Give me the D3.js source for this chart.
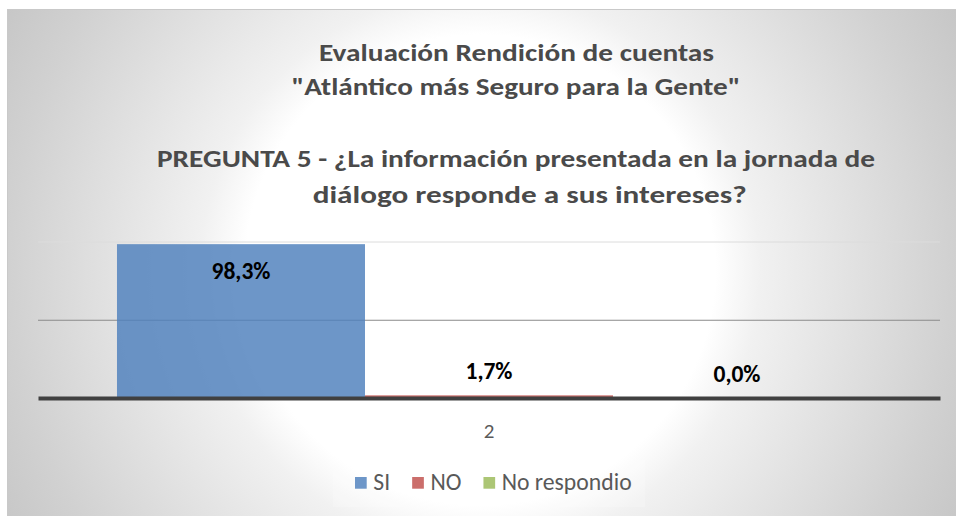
<!DOCTYPE html>
<html><head><meta charset="utf-8">
<script src="https://cdn.jsdelivr.net/npm/d3@7"></script>
<style>body{margin:0;background:#fff}svg{display:block}</style>
</head><body><svg id="c" width="956" height="516"></svg>
<script>
// ---- data ----
const titleLines = ['Evaluación Rendición de cuentas', '"Atlántico más Seguro para la Gente"', 'PREGUNTA 5 - ¿La información presentada en la jornada de', 'diálogo responde a sus intereses?'];
const categories = ['2'];
const series = ['SI', 'NO', 'No respondio'];
const values = [98.3, 1.7, 0.0];
const valueLabels = ['98,3%', '1,7%', '0,0%'];
const yTicks = [0, 50, 100];

// ---- styles / layout ----
const colors = ['#4F81BD', '#C0504D', '#9BBB59'];
const FONT = 'Carlito, Lato, "Open Sans", sans-serif';
const svg = d3.select('#c');
const plot = {left: 38, right: 940, top: 241.5, bottom: 398};

function fit(sel, target) {
  const w = sel.node().getComputedTextLength();
  const fs = parseFloat(sel.attr('font-size'));
  sel.attr('font-size', fs * target / w);
  return sel;
}

function draw() {
  const defs = svg.append('defs');
  const g = defs.append('radialGradient').attr('id', 'bg')
    .attr('gradientUnits', 'userSpaceOnUse').attr('cx', 480).attr('cy', 270).attr('r', 560);
  [[0, '#ffffff'], [0.42, '#ffffff'], [0.5, '#f1f1f1'], [0.84, '#d1d1d1'], [1, '#c4c4c4']]
    .forEach(([o, c]) => g.append('stop').attr('offset', o).attr('stop-color', c));

  svg.append('rect').attr('x', 7.5).attr('y', 9.5).attr('width', 960).attr('height', 520)
    .attr('fill', 'url(#bg)').attr('stroke', '#c9c9c9').attr('stroke-width', 1);

  // titles
  const tl = [
    {c: 516.5, y: 60.7, w: 395},
    {c: 516, y: 94.5, w: 449},
    {c: 516, y: 166.5, w: 718},
    {c: 529.7, y: 202.5, w: 434}
  ];
  titleLines.forEach((t, i) => {
    svg.append('text').attr('x', tl[i].c).attr('y', tl[i].y)
      .attr('text-anchor', 'middle').attr('font-family', FONT).attr('font-weight', 'bold')
      .attr('font-size', 25).attr('fill', '#4a4a4a')
      .attr('textLength', tl[i].w).attr('lengthAdjust', 'spacingAndGlyphs').text(t);
  });

  const x0 = d3.scaleBand().domain(categories).range([plot.left, plot.right]);
  const x1 = d3.scaleBand().domain(series).range([0, x0.bandwidth()]).paddingInner(0).paddingOuter(0.3185);
  const y = d3.scaleLinear().domain([0, 100]).range([plot.bottom, plot.top]);

  // gridlines
  const grid = svg.append('g').attr('transform', `translate(${plot.left},0)`)
    .call(d3.axisLeft(y).tickValues(yTicks.filter(v => v > 0)).tickSize(-(plot.right - plot.left)).tickFormat(''));
  grid.select('.domain').remove();
  grid.selectAll('.tick line').attr('stroke', d => d === 100 ? '#dcdcdc' : '#8a8a8a').attr('stroke-width', 1);

  // bars
  const cat = svg.append('g').selectAll('g').data(categories).join('g')
    .attr('transform', d => `translate(${x0(d)},0)`);
  cat.selectAll('rect').data(series.map((s, i) => ({s, v: values[i], i}))).join('rect')
    .attr('x', d => x1(d.s)).attr('width', x1.bandwidth())
    .attr('y', d => y(d.v)).attr('height', d => y(0) - y(d.v))
    .attr('fill', d => colors[d.i]).attr('fill-opacity', 0.83);

  // x axis
  const xa = svg.append('g').attr('transform', `translate(0,${plot.bottom})`)
    .call(d3.axisBottom(x0).tickSize(0).tickPadding(0));
  xa.select('.domain').attr('stroke', '#404040').attr('stroke-width', 4);
  xa.selectAll('.tick text').attr('font-family', FONT).attr('font-size', 21).attr('fill', '#595959')
    .attr('dy', 0).attr('y', 39.5).attr('dx', 0);

  // value labels
  cat.selectAll('text.v').data(series.map((s, i) => ({s, v: values[i], i}))).join('text')
    .attr('class', 'v')
    .attr('x', d => x1(d.s) + x1.bandwidth() / 2)
    .attr('y', d => d.v > 50 ? y(d.v) + 34.5 : y(d.v) - 16.5)
    .attr('text-anchor', 'middle').attr('font-family', FONT).attr('font-weight', 'bold')
    .attr('font-size', 20).attr('fill', '#000').text(d => valueLabels[d.i]);
  const first = cat.select('text.v');
  fit(first, 59);
  cat.selectAll('text.v').attr('font-size', first.attr('font-size'));

  // legend
  const lg = svg.append('g');
  lg.append('rect').attr('x', 333).attr('y', 460).attr('width', 312).attr('height', 47)
    .attr('fill', '#ffffff').attr('fill-opacity', 0.2);
  let lx = 355;
  const probe = lg.append('text').attr('font-family', FONT).attr('font-size', 20).text(series[2]);
  fit(probe, 130);
  const legSize = +probe.attr('font-size');
  probe.remove();
  series.forEach((s, i) => {
    lg.append('rect').attr('x', lx).attr('y', 477).attr('width', 11.7).attr('height', 11.7)
      .attr('fill', colors[i]).attr('fill-opacity', 0.83);
    const t = lg.append('text').attr('x', lx + 18.3).attr('y', 490)
      .attr('font-family', FONT).attr('font-size', legSize).attr('fill', '#595959').text(s);
    lx += 18.3 + t.node().getComputedTextLength() + 22;
  });
}
if (document.fonts && document.fonts.ready) document.fonts.ready.then(draw); else draw();
</script></body></html>
